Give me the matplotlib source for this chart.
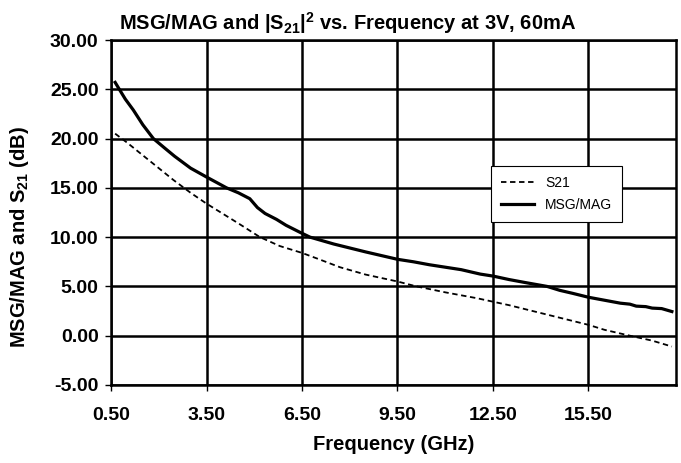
import matplotlib.pyplot as plt

plt.rcParams['font.family'] = 'Liberation Sans'
plt.rcParams['mathtext.fontset'] = 'custom'
plt.rcParams['mathtext.rm'] = 'Liberation Sans:bold'
plt.rcParams['mathtext.bf'] = 'Liberation Sans:bold'
plt.rcParams['mathtext.it'] = 'Liberation Sans:bold'

# данные
msg_freq = [0.63, 0.78, 0.95, 1.2, 1.5, 1.83, 2.2, 2.5, 3.0, 3.5, 4.13, 4.5, 4.86,
            5.1, 5.34, 5.7, 6.0, 6.43, 6.75, 7.5, 8.5, 9.5, 10.0, 10.5, 11.0, 11.5,
            12.1, 12.5, 13.0, 13.5, 14.2, 14.6, 15.0, 15.5, 16.0, 16.5, 16.8,
            17.0, 17.3, 17.5, 17.8, 18.12]
msg_db = [25.7, 24.9, 24.0, 22.9, 21.4, 20.0, 19.0, 18.2, 17.0, 16.1, 15.0, 14.5, 13.9,
          13.0, 12.4, 11.8, 11.2, 10.5, 10.0, 9.3, 8.5, 7.75, 7.5, 7.2, 6.95, 6.7,
          6.25, 6.05, 5.7, 5.4, 5.0, 4.6, 4.3, 3.9, 3.6, 3.3, 3.2,
          3.0, 2.95, 2.8, 2.75, 2.45]

s21_freq = [0.63, 1.0, 1.5, 2.0, 2.46, 3.0, 3.5, 4.0, 4.5, 5.18, 5.8, 6.5, 7.0,
            7.69, 8.5, 9.5, 10.1, 11.0, 12.0, 12.5, 13.0, 13.5, 14.0, 14.5, 15.0,
            15.5, 16.0, 16.8, 17.5, 18.12]
s21_db = [20.5, 19.6, 18.3, 17.0, 15.8, 14.5, 13.4, 12.4, 11.4, 10.0, 9.1, 8.4, 7.8,
          6.95, 6.2, 5.5, 5.0, 4.4, 3.8, 3.45, 3.1, 2.7, 2.3, 1.9, 1.5,
          1.1, 0.6, 0.0, -0.5, -1.1]

x_ticks = [0.5, 3.5, 6.5, 9.5, 12.5, 15.5]
y_ticks = [-5, 0, 5, 10, 15, 20, 25, 30]

fig = plt.figure(figsize=(6.81, 4.63), dpi=100)
ax = fig.add_axes([0.163, 0.1685, 0.8297, 0.7451])

ax.plot(s21_freq, s21_db, 'k--', lw=1.3, dashes=(3, 2), label='S21')
ax.plot(msg_freq, msg_db, 'k-', lw=2.3, label='MSG/MAG')

ax.set_xlim(0.5, 18.25)
ax.set_ylim(-5, 30)
ax.set_xticks(x_ticks)
ax.set_yticks(y_ticks)
ax.set_xticklabels(['%.2f' % v for v in x_ticks], fontweight='bold', fontsize=14)
ax.set_yticklabels(['%.2f' % v for v in y_ticks], fontweight='bold', fontsize=14)
ax.tick_params(direction='out', length=4, width=1, pad=5)
ax.tick_params(axis='x', pad=12)
ax.grid(True, color='black', lw=1.8)
for s in ax.spines.values():
    s.set_linewidth(1.8)

ax.set_xlabel('Frequency (GHz)', fontweight='bold', fontsize=14.5, labelpad=8)
ax.set_ylabel(r'MSG/MAG and S$_{\mathregular{21}}$ (dB)', fontweight='bold', fontsize=14.5)
ax.yaxis.set_label_coords(-0.142, 0.43)
ax.set_title(r'MSG/MAG and |S$_{\mathregular{21}}$|$^{\mathregular{2}}$ vs. Frequency at 3V, 60mA',
             fontweight='bold', fontsize=14.5, x=0.418, pad=7)

leg = ax.legend(loc='upper left', bbox_to_anchor=(0.66, 0.655), fontsize=10,
                frameon=True, fancybox=False, framealpha=1, edgecolor='black',
                handlelength=2.4, borderpad=0.7, labelspacing=0.6)
leg.get_frame().set_linewidth(0.8)

fig.savefig('out.png', dpi=100)
